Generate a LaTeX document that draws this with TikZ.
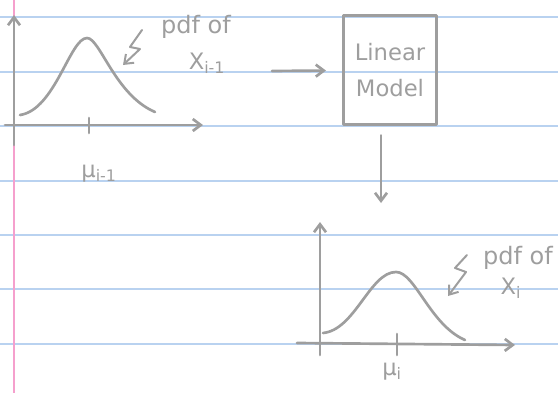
\documentclass[tikz,border=0pt]{standalone}
\usepackage{fontspec}
\setmainfont{DejaVu Sans}
\usetikzlibrary{arrows.meta,positioning}

\definecolor{pencil}{RGB}{158,158,158}
\definecolor{ruleblue}{RGB}{185,210,240}
\definecolor{marginpink}{RGB}{245,160,205}

\tikzset{every picture/.style={line width=0.75pt}}
\tikzset{
  pen/.style={draw=pencil, line width=2, line cap=round, line join=round},
  penarrow/.style={pen, -{Straight Barb[length=6pt,width=9pt]}},
  scrawl/.style={text=pencil, font=\fontsize{17}{19}\selectfont, inner sep=1pt},
}

\begin{document}
\begin{tikzpicture}[x=0.75pt,y=0.75pt,yscale=-1,xscale=1]
\useasboundingbox (0,0) rectangle (558,393);

%Ruled paper
\foreach \ry in {17,72,126,181,235,289,344}
  \draw [color=ruleblue, line width=1.2] (0,\ry) -- (558,\ry) ;
\draw [color=marginpink, line width=1.5] (14,0) -- (14,393) ;

%Left plot axes
\coordinate (lo) at (14,145) ;
\coordinate (ltop) at (14,15) ;
\coordinate (lx0) at (5,125) ;
\coordinate (lxend) at (203,125) ;
\draw [penarrow] (lo) -- (ltop) ;
\draw [penarrow] (lx0) -- (lxend) ;
%Left curve
\draw [pen] (20,115) .. controls (55,110) and (70,38) .. (87,38) .. controls (100,38) and (115,95) .. (155,112) ;
\draw [pen] (89,118) -- (89,133) ;
\node [scrawl] (mulast) at (99,174) {μ\textsubscript{i-1}} ;
%Left label
\node [scrawl, font=\fontsize{18}{20}\selectfont] (pdflast) at (196,27) {pdf of} ;
\node [scrawl] (xlast) at (207,63) {X\textsubscript{i-1}} ;
\coordinate (zlast) at (142,30) ;
\draw [penarrow, line width=1.5] (zlast) -- ++(-12,17) -- ++(10,2) -- ++(-17,16) ;

%Linear model block
\node [pen, scrawl, minimum width=70pt, minimum height=82pt, align=center] (linmod) at (390,70) {Linear\\[8pt]Model} ;
\coordinate (arrin) at (272,71) ;
\draw [penarrow, shorten >=12pt] (arrin) -- (linmod) ;
\coordinate (arrout) at (381,203) ;
\draw [penarrow, shorten <=7pt] (linmod.south -| arrout) -- (arrout) ;

%Right plot axes
\coordinate (ro) at (320,355) ;
\coordinate (rtop) at (320,222) ;
\coordinate (rx0) at (297,343) ;
\coordinate (rxend) at (515,345) ;
\draw [penarrow] (ro) -- (rtop) ;
\draw [penarrow] (rx0) -- (rxend) ;
%Right curve
\draw [pen] (323,333) .. controls (355,330) and (370,272) .. (396,272) .. controls (415,272) and (430,325) .. (465,340) ;
\draw [pen] (397,334) -- (397,355) ;
\node [scrawl] (mucur) at (392,372) {μ\textsubscript{i}} ;
%Right label
\node [scrawl, font=\fontsize{18}{20}\selectfont] (pdfcur) at (518,258) {pdf of} ;
\node [scrawl] (xcur) at (511,288) {X\textsubscript{i}} ;
\coordinate (zcur) at (467,255) ;
\draw [penarrow, line width=1.5] (zcur) -- ++(-12,13) -- ++(11,4) -- ++(-18,24) ;

\end{tikzpicture}
\end{document}
